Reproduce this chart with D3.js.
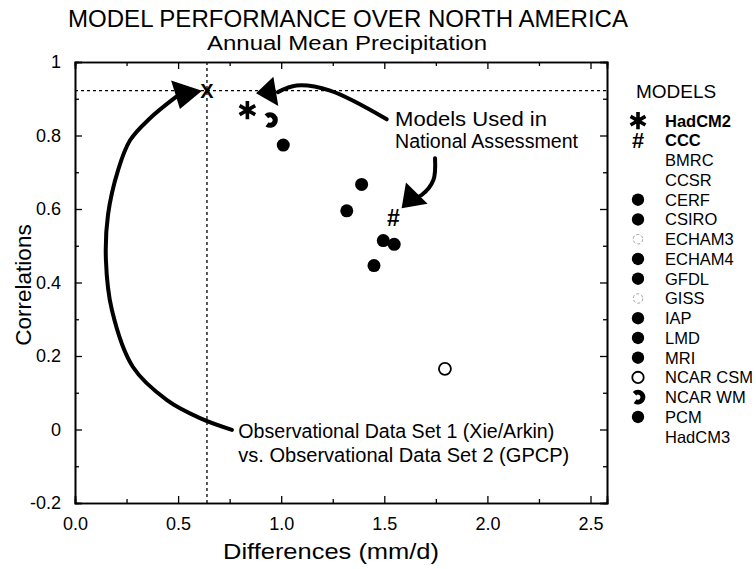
<!DOCTYPE html>
<html>
<head>
<meta charset="utf-8">
<script src="https://cdn.jsdelivr.net/npm/d3@7/dist/d3.min.js"></script>
<style>
  html, body { margin: 0; padding: 0; background: #fff; }
  svg { display: block; font-family: "Liberation Sans", Arial, Helvetica, sans-serif; }
</style>
</head>
<body>
<svg id="chart" width="756" height="569"></svg>
<script>
// ---------------- DATA ----------------
const titleText = "MODEL PERFORMANCE OVER NORTH AMERICA";
const subtitleText = "Annual Mean Precipitation";
const xTitle = "Differences (mm/d)";
const yTitle = "Correlations";

const xTickValues = [0.0, 0.5, 1.0, 1.5, 2.0, 2.5];
const xTickLabels = ["0.0", "0.5", "1.0", "1.5", "2.0", "2.5"];
const yTickValues = [-0.2, 0, 0.2, 0.4, 0.6, 0.8, 1];
const yTickLabels = ["-0.2", "0", "0.2", "0.4", "0.6", "0.8", "1"];

// model points (difference, correlation, symbol)
const pointX = [0.836, 0.946, 1.010, 1.390, 1.318, 1.544, 1.495, 1.548, 1.450, 1.794];
const pointY = [0.869, 0.842, 0.774, 0.667, 0.595, 0.575, 0.514, 0.504, 0.446, 0.165];
const pointSymbol = ["asterisk", "crescent", "filled", "filled", "filled", "hash", "filled", "filled", "filled", "open"];

// observational data set 1 vs 2
const obsX = 0.64;
const obsY = 0.922;

// legend
const legendNames = ["HadCM2", "CCC", "BMRC", "CCSR", "CERF", "CSIRO", "ECHAM3", "ECHAM4", "GFDL", "GISS", "IAP", "LMD", "MRI", "NCAR CSM", "NCAR WM", "PCM", "HadCM3"];
const legendSymbol = ["asterisk", "hash", "none", "none", "filled", "filled", "faint", "filled", "filled", "faint", "filled", "filled", "filled", "open", "crescent", "filled", "none"];
const legendBold = [true, true, false, false, false, false, false, false, false, false, false, false, false, false, false, false, false];

// annotations (in data units)
const noteModels = ["Models Used in", "National Assessment"];
const noteModelsPos = [1.552, 0.826];
const noteObs = ["Observational Data Set 1 (Xie/Arkin)", "vs. Observational Data Set 2 (GPCP)"];
const noteObsPos = [0.792, -0.024];

const arrowA = [[1.512, 0.844], [1.237, 0.922], [1.075, 0.936], [0.984, 0.918]];
const headA = [[0.878, 0.915], [0.962, 0.960], [0.986, 0.880]];
const arrowB = [[1.746, 0.738], [1.738, 0.679], [1.681, 0.638], [1.649, 0.630]];
const headB = [[1.584, 0.602], [1.605, 0.672], [1.710, 0.614]];
const arrowC = [[0.761, -0.001], [0.606, 0.031], [0.446, 0.080], [0.281, 0.170], [0.179, 0.325], [0.150, 0.461], [0.160, 0.584], [0.209, 0.706], [0.267, 0.787], [0.364, 0.847], [0.490, 0.905]];
const headC = [[0.616, 0.922], [0.466, 0.950], [0.509, 0.872]];

// ---------------- LAYOUT ----------------
const plot = { left: 75, right: 607, top: 62, bottom: 503 };
const svg = d3.select("#chart");

const x = d3.scaleLinear().domain([0, 2.58]).range([plot.left, plot.right]);
const y = d3.scaleLinear().domain([-0.2, 1]).range([plot.bottom, plot.top]);

// titles
svg.append("text").attr("x", 348).attr("y", 27).attr("text-anchor", "middle")
  .attr("font-size", 24).attr("textLength", 560).attr("lengthAdjust", "spacingAndGlyphs")
  .text(titleText);
svg.append("text").attr("x", 347).attr("y", 50).attr("text-anchor", "middle")
  .attr("font-size", 20).attr("textLength", 280).attr("lengthAdjust", "spacingAndGlyphs")
  .text(subtitleText);

// reference dashed lines
svg.append("line").attr("x1", plot.left).attr("x2", plot.right)
  .attr("y1", y(obsY)).attr("y2", y(obsY))
  .attr("stroke", "#000").attr("stroke-width", 1.3).attr("stroke-dasharray", "3,3");
svg.append("line").attr("x1", x(obsX)).attr("x2", x(obsX))
  .attr("y1", plot.top).attr("y2", plot.bottom)
  .attr("stroke", "#000").attr("stroke-width", 1.3).attr("stroke-dasharray", "3,3");

// axes with inward ticks
const minorX = d3.range(0.25, 2.6, 0.5);
const minorY = d3.range(-0.1, 1.0, 0.2);

svg.append("g").attr("transform", `translate(0,${plot.bottom})`)
  .call(d3.axisBottom(x).tickValues(xTickValues).tickSize(-7).tickFormat((d, i) => xTickLabels[i]).tickPadding(14));
svg.append("g").attr("transform", `translate(0,${plot.top})`)
  .call(d3.axisTop(x).tickValues(xTickValues).tickSize(-7).tickFormat(""));
svg.append("g").attr("transform", `translate(${plot.left},0)`)
  .call(d3.axisLeft(y).tickValues(yTickValues).tickSize(-7).tickFormat((d, i) => yTickLabels[i]).tickPadding(14));
svg.append("g").attr("transform", `translate(${plot.right},0)`)
  .call(d3.axisRight(y).tickValues(yTickValues).tickSize(-7).tickFormat(""));
svg.append("g").attr("transform", `translate(0,${plot.bottom})`)
  .call(d3.axisBottom(x).tickValues(minorX).tickSize(-4).tickFormat(""));
svg.append("g").attr("transform", `translate(0,${plot.top})`)
  .call(d3.axisTop(x).tickValues(minorX).tickSize(-4).tickFormat(""));
svg.append("g").attr("transform", `translate(${plot.left},0)`)
  .call(d3.axisLeft(y).tickValues(minorY).tickSize(-4).tickFormat(""));
svg.append("g").attr("transform", `translate(${plot.right},0)`)
  .call(d3.axisRight(y).tickValues(minorY).tickSize(-4).tickFormat(""));

svg.selectAll(".domain").attr("stroke", "#000").attr("stroke-width", 1.6);
svg.selectAll(".tick line").attr("stroke", "#000").attr("stroke-width", 1.3);
svg.selectAll(".tick text").attr("font-size", 18).attr("fill", "#000")
  .attr("font-family", "'Liberation Sans', Arial, sans-serif");

// axis titles
svg.append("text").attr("x", 331).attr("y", 559).attr("text-anchor", "middle")
  .attr("font-size", 22).attr("textLength", 216).attr("lengthAdjust", "spacingAndGlyphs").text(xTitle);
svg.append("text").attr("transform", `translate(31,285) rotate(-90)`).attr("text-anchor", "middle")
  .attr("font-size", 22.5).text(yTitle);

// symbols
function drawSymbol(g, type, cx, cy, scale) {
  const s = scale || 1;
  if (type === "filled") {
    g.append("circle").attr("cx", cx).attr("cy", cy).attr("r", 6.5 * s).attr("fill", "#000");
  } else if (type === "open") {
    g.append("circle").attr("cx", cx).attr("cy", cy).attr("r", 6 * s)
      .attr("fill", "none").attr("stroke", "#000").attr("stroke-width", 1.8);
  } else if (type === "faint") {
    g.append("circle").attr("cx", cx).attr("cy", cy).attr("r", 5 * s)
      .attr("fill", "none").attr("stroke", "#999").attr("stroke-width", 0.9).attr("stroke-dasharray", "3,2");
  } else if (type === "asterisk") {
    g.append("path").attr("transform", `translate(${cx},${cy})`)
      .attr("d", d3.symbol(d3.symbolAsterisk, 230 * s * s)())
      .attr("fill", "none").attr("stroke", "#000").attr("stroke-width", 3.6);
  } else if (type === "hash") {
    g.append("text").attr("x", cx).attr("y", cy).attr("dy", "0.36em").attr("text-anchor", "middle")
      .attr("font-size", 23 * s).attr("font-weight", "bold").text("#");
  } else if (type === "crescent") {
    const arc = d3.arc().innerRadius(2.6 * s).outerRadius(7.8 * s)
      .startAngle(-0.25 * Math.PI).endAngle(1.2 * Math.PI);
    g.append("path").attr("transform", `translate(${cx},${cy})`).attr("d", arc()).attr("fill", "#000");
  }
}

const gPts = svg.append("g");
pointX.forEach((v, i) => drawSymbol(gPts, pointSymbol[i], x(v), y(pointY[i]), 1));

// observational X
svg.append("text").attr("x", x(obsX)).attr("y", y(obsY)).attr("dy", "0.36em")
  .attr("text-anchor", "middle").attr("font-size", 20).attr("font-weight", "bold").text("X");

// annotations
const lineGen = d3.line().x(d => x(d[0])).y(d => y(d[1])).curve(d3.curveCatmullRom.alpha(0.5));
[arrowA, arrowB, arrowC].forEach(a => {
  svg.append("path").attr("d", lineGen(a)).attr("fill", "none")
    .attr("stroke", "#000").attr("stroke-width", 4).attr("stroke-linecap", "round");
});
[headA, headB, headC].forEach(h => {
  svg.append("path").attr("d", "M" + h.map(p => [x(p[0]), y(p[1])].join(",")).join("L") + "Z")
    .attr("fill", "#000");
});

const modelsLens = [152, 183];
noteModels.forEach((t, i) => {
  svg.append("text").attr("x", x(noteModelsPos[0])).attr("y", y(noteModelsPos[1]) + i * 22)
    .attr("font-size", 19.5).attr("textLength", modelsLens[i]).attr("lengthAdjust", "spacingAndGlyphs").text(t);
});
const obsLens = [316, 331];
noteObs.forEach((t, i) => {
  svg.append("text").attr("x", x(noteObsPos[0])).attr("y", y(noteObsPos[1]) + i * 23.5)
    .attr("font-size", 20).attr("textLength", obsLens[i]).attr("lengthAdjust", "spacingAndGlyphs").text(t);
});

// legend
const legX = 638, legTextX = 665, legY0 = 120.7, legStep = 19.75;
svg.append("text").attr("x", 636).attr("y", 98).attr("font-size", 19).text("MODELS");
const gLeg = svg.append("g");
legendNames.forEach((n, i) => {
  const cy = legY0 + i * legStep;
  drawSymbol(gLeg, legendSymbol[i], legX, cy, 0.95);
  gLeg.append("text").attr("x", legTextX).attr("y", cy).attr("dy", "0.36em")
    .attr("font-size", 16.5).attr("font-weight", legendBold[i] ? "bold" : "normal").text(n);
});
</script>
</body>
</html>
